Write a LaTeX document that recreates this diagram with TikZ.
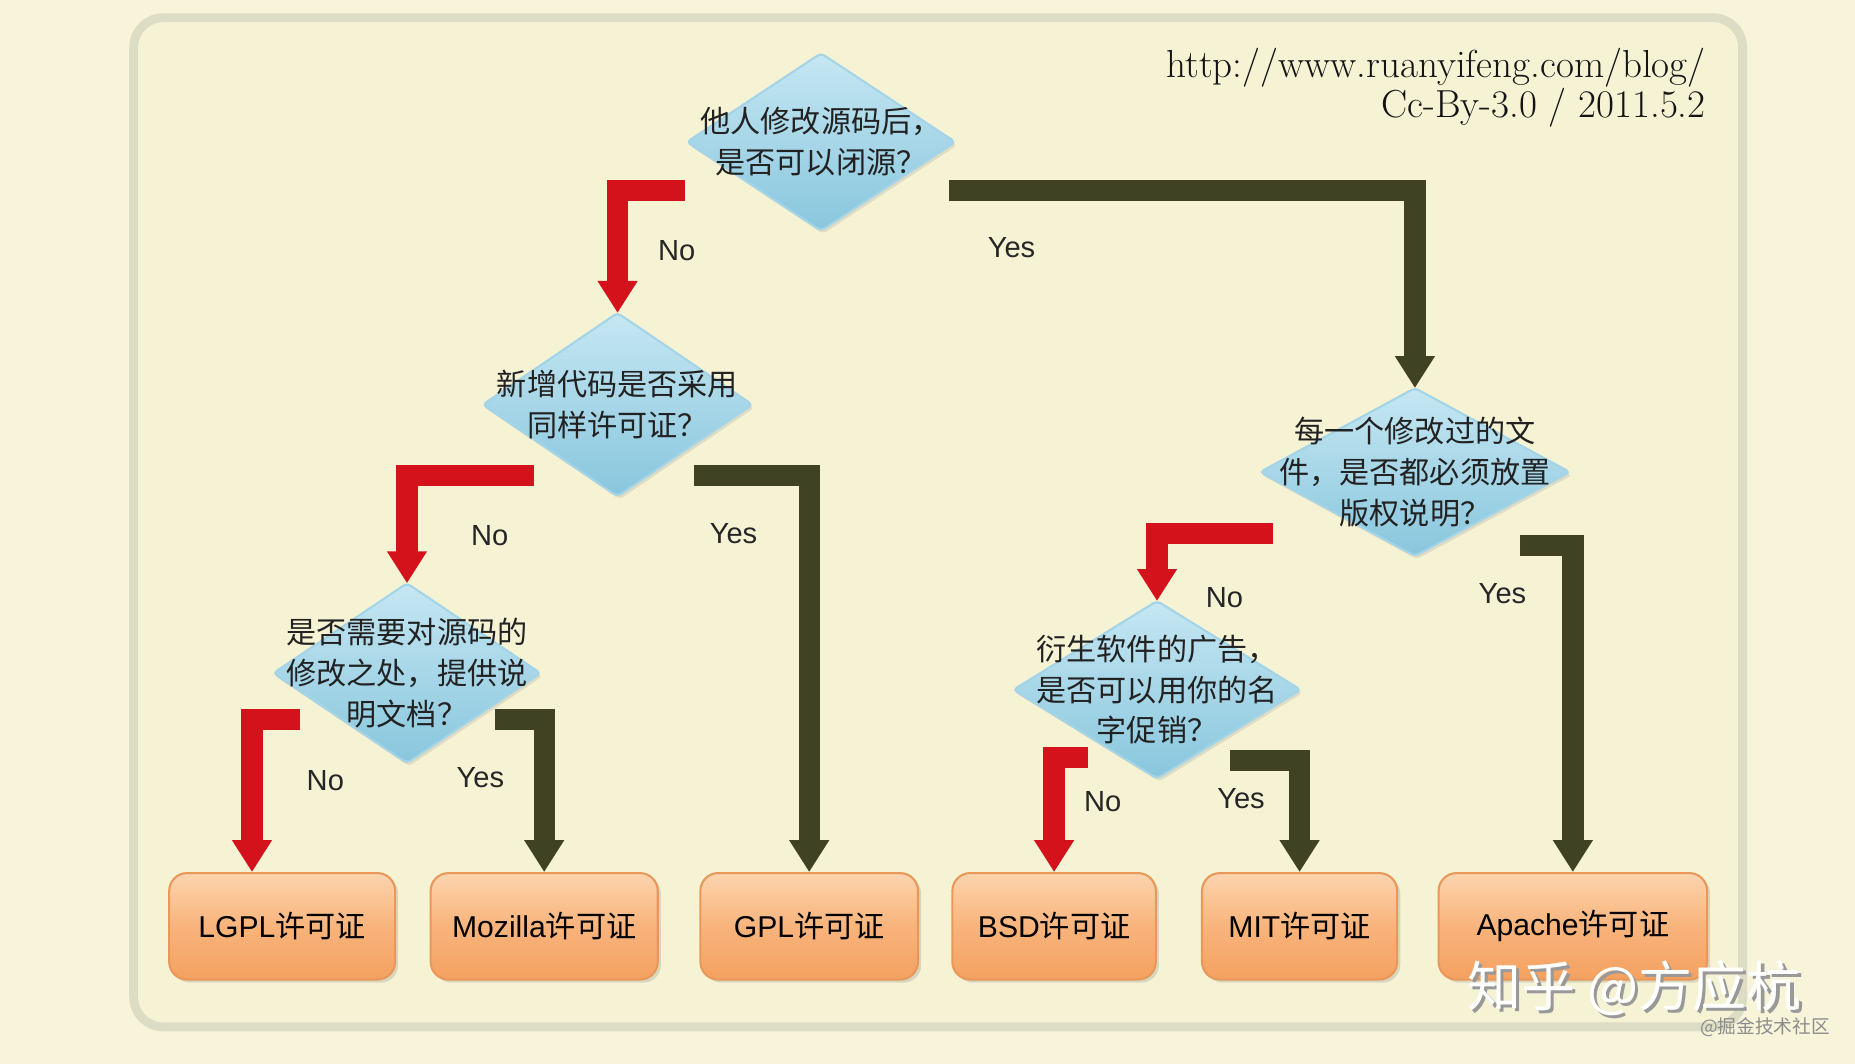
\documentclass[tikz,border=0pt]{standalone}
\usepackage{fontspec}
\newfontfamily\cjk{Noto Sans CJK SC}
\newfontfamily\arial{Liberation Sans}
\usetikzlibrary{arrows.meta,shapes.geometric,shadows}
\definecolor{paper}{HTML}{F7F4D9}
\definecolor{card}{HTML}{F6F3D5}
\definecolor{rim}{HTML}{DDDCC4}
\definecolor{nored}{HTML}{D3121C}
\definecolor{yesolive}{HTML}{3F4324}
\definecolor{qtop}{HTML}{C6E7F3}
\definecolor{qbot}{HTML}{88C6DD}
\definecolor{qrim}{HTML}{A3D4E7}
\definecolor{qink}{HTML}{222222}
\definecolor{ltop}{HTML}{FCD4AE}
\definecolor{lmid}{HTML}{F8B47C}
\definecolor{lbot}{HTML}{F4A160}
\definecolor{lrim}{HTML}{E8995A}
\newcommand{\lic}[1]{{\arial #1}{\cjk 许可证}}
\begin{document}
\begin{tikzpicture}[x=0.02cm, y=-0.02cm, line join=miter,
    question/.style={diamond, inner sep=0pt, outer sep=0pt, rounded corners=2pt,
      top color=qtop, bottom color=qbot, draw=qrim, line width=1pt,
      drop shadow={shadow xshift=1pt, shadow yshift=-1.5pt, opacity=0.2}},
    qtext/.style={font=\cjk\fontsize{14.5pt}{19.6pt}\selectfont, align=center, text=qink, inner sep=0pt},
    licence/.style={rounded corners=0.3cm, minimum height=1.8cm, inner sep=0pt,
      top color=ltop, bottom color=lbot, middle color=lmid, draw=lrim, line width=1pt,
      font=\fontsize{14.5pt}{16pt}\selectfont, text=black,
      drop shadow={shadow xshift=1.5pt, shadow yshift=-1.5pt, opacity=0.25}},
    noarr/.style={line width=0.36cm, draw=nored, -{Triangle[width=0.64cm, length=0.54cm]}},
    yesarr/.style={line width=0.36cm, draw=yesolive, -{Triangle[width=0.64cm, length=0.54cm]}},
    answer/.style={font=\arial\fontsize{14pt}{16pt}\selectfont, text=black!85}]
  \fill[paper] (0,0) rectangle (1568,899);
  \useasboundingbox (0,0) rectangle (1568,899);
  \draw[rim, line width=0.15cm, fill=card, rounded corners=0.5cm] (113,15) rectangle (1473,868);

  \node[anchor=east, align=right, font=\fontsize{18.8pt}{19.5pt}\selectfont, text=black!92] (src) at (1448,74)
    {http://www.ruanyifeng.com/blog/\\Cc-By-3.0 / 2011.5.2};

  \node[question, minimum width=4.54cm, minimum height=3cm,
    label={[qtext]center:{他人修改源码后，\\是否可以闭源？}}] (d1) at (694,120) {};
  \node[question, minimum width=4.56cm, minimum height=3.1cm,
    label={[qtext]center:{新增代码是否采用\\同样许可证？}}] (d2) at (522,342) {};
  \node[question, minimum width=5.24cm, minimum height=2.84cm,
    label={[qtext]center:{每一个修改过的文\\件，是否都必须放置\\版权说明？}}] (d3) at (1196,399) {};
  \node[question, minimum width=4.52cm, minimum height=3.04cm,
    label={[qtext]center:{是否需要对源码的\\修改之处，提供说\\明文档？}}] (d4) at (344,569) {};
  \node[question, minimum width=4.86cm, minimum height=3cm,
    label={[qtext]center:{衍生软件的广告，\\是否可以用你的名\\字促销？}}] (d5) at (978,583) {};

  \node[licence, minimum width=3.82cm] (b1) at (238.5,783) {\lic{LGPL}};
  \node[licence, minimum width=3.84cm] (b2) at (460,783) {\lic{Mozilla}};
  \node[licence, minimum width=3.68cm] (b3) at (684,783) {\lic{GPL}};
  \node[licence, minimum width=3.44cm] (b4) at (891,783) {\lic{BSD}};
  \node[licence, minimum width=3.3cm] (b5) at (1098.5,783) {\lic{MIT}};
  \node[licence, minimum width=4.54cm] (b6) at (1329.5,783) {\lic{Apache}};

  \coordinate (s1) at (579,161);
  \coordinate (s2) at (802,161);
  \coordinate (s3) at (451,402);
  \coordinate (s4) at (587,402);
  \coordinate (s5) at (1076,451);
  \coordinate (s6) at (1285,461);
  \coordinate (s7) at (254,608);
  \coordinate (s8) at (418,608);
  \coordinate (s9) at (920,640);
  \coordinate (s10) at (1040,643);

  \draw[noarr] (s1) -| (d2.north);
  \draw[yesarr] (s2) -| (d3.north);
  \draw[noarr] (s3) -| (d4.north);
  \draw[yesarr] (s4) -| (b3.north);
  \draw[noarr] (s5) -| (d5.north);
  \draw[yesarr] (s6) -| (b6.north);
  \draw[noarr] (s7) -| ([xshift=-0.51cm]b1.north);
  \draw[yesarr] (s8) -| (b2.north);
  \draw[noarr] (s9) -| (b4.north);
  \draw[yesarr] (s10) -| (b5.north);

  \node[answer] (n1) at (572,212) {No};
  \node[answer] (y1) at (855,209) {Yes};
  \node[answer] (n2) at (414,453) {No};
  \node[answer] (y2) at (620,451) {Yes};
  \node[answer] (n3) at (1035,505) {No};
  \node[answer] (y3) at (1270,502) {Yes};
  \node[answer] (n4) at (275,660) {No};
  \node[answer] (y4) at (406,657) {Yes};
  \node[answer] (n5) at (932,678) {No};
  \node[answer] (y5) at (1049,675) {Yes};

  \node[font=\cjk\fontsize{26pt}{28pt}\selectfont, text=black!40] (zhs) at (1384,838) {知乎 @方应杭};
  \node[font=\cjk\fontsize{26pt}{28pt}\selectfont, text=white] (zh) at (1381,835) {知乎 @方应杭};
  \node[font=\cjk\fontsize{9pt}{10pt}\selectfont, text=black!45] (jj) at (1492,868) {@掘金技术社区};
\end{tikzpicture}
\end{document}
